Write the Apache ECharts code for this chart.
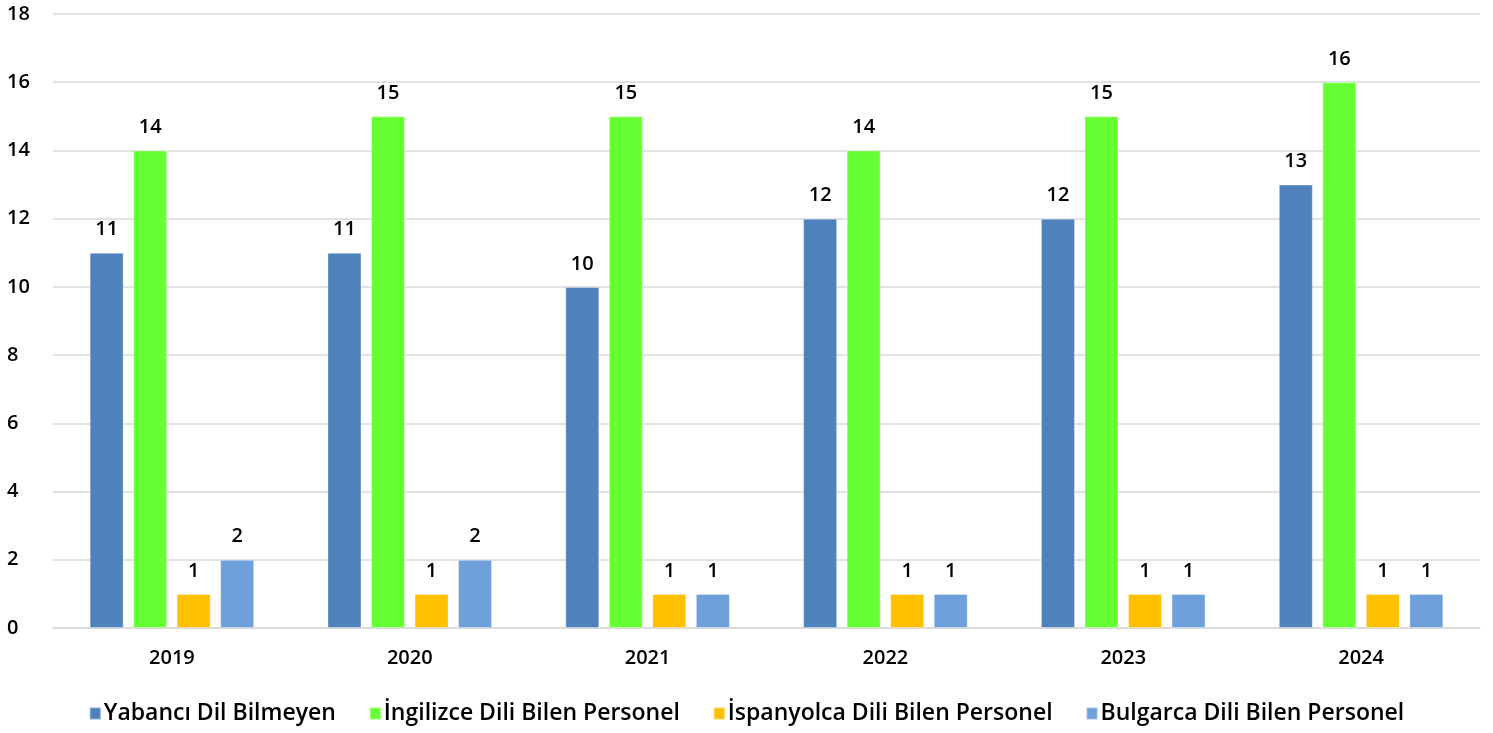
<!DOCTYPE html>
<html>
<head>
<meta charset="utf-8">
<script src="https://cdn.jsdelivr.net/npm/echarts@6/dist/echarts.min.js"></script>
<style>
html,body{margin:0;padding:0;background:#fff;}
#chart{width:1493px;height:733px;}
</style>
</head>
<body>
<div id="chart"></div>
<script>
const years = ['2019', '2020', '2021', '2022', '2023', '2024'];
const seriesNames = ['Yabancı Dil Bilmeyen', 'İngilizce Dili Bilen Personel', 'İspanyolca Dili Bilen Personel', 'Bulgarca Dili Bilen Personel'];
const yabanci = [11, 11, 10, 12, 12, 13];
const ingilizce = [14, 15, 15, 14, 15, 16];
const ispanyolca = [1, 1, 1, 1, 1, 1];
const bulgarca = [2, 2, 1, 1, 1, 1];
const colors = ['#4F81BD', '#66FF33', '#FFC000', '#6FA0DC'];

const FONT = '"Open Sans"';
const chart = echarts.init(document.getElementById('chart'));
const values = [yabanci, ingilizce, ispanyolca, bulgarca];
const series = values.map((d, i) => ({
  name: seriesNames[i],
  type: 'bar',
  data: d,
  barWidth: 34,
  barGap: '28%',
  itemStyle: { color: colors[i], borderColor: 'rgba(255,255,255,0.35)', borderWidth: 1 },
  label: {
    show: true, position: 'top', distance: 13,
    color: '#000', fontFamily: FONT, fontSize: 20, fontWeight: 600
  }
}));
chart.setOption({
  animation: false,
  color: colors,
  grid: { left: 53, right: 13, top: 14, bottom: 105, containLabel: false },
  legend: {
    bottom: 3, left: 'center',
    itemWidth: 11, itemHeight: 12, itemGap: 33,
    icon: 'rect',
    textStyle: { color: '#000', fontFamily: FONT, fontSize: 23, fontWeight: 600, padding: [0, 0, 0, -2] },
    data: seriesNames
  },
  xAxis: {
    type: 'category', data: years,
    axisLine: { lineStyle: { color: '#d9d9d9', width: 1.5 } },
    axisTick: { show: false },
    axisLabel: { color: '#000', fontFamily: FONT, fontSize: 20, fontWeight: 600, margin: 20 }
  },
  yAxis: {
    type: 'value', min: 0, max: 18, interval: 2,
    axisLine: { show: false }, axisTick: { show: false },
    splitLine: { lineStyle: { color: '#d9d9d9', width: 1.5 } },
    axisLabel: { color: '#000', fontFamily: FONT, fontSize: 20, fontWeight: 600, margin: 46, align: 'left' }
  },
  series: series
});
</script>
</body>
</html>
